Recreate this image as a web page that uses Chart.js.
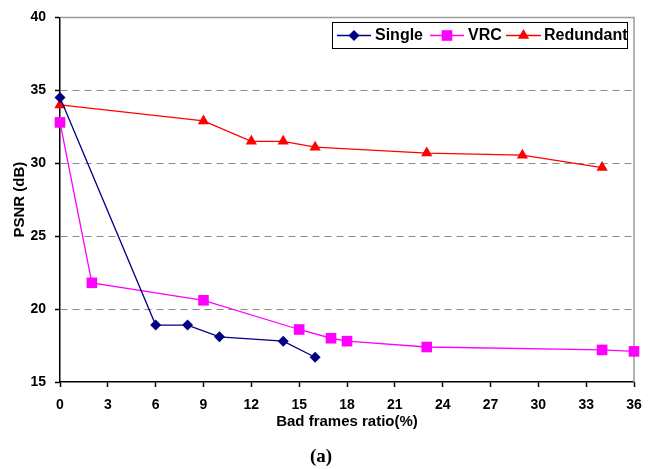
<!DOCTYPE html>
<html>
<head>
<meta charset="utf-8">
<script src="https://cdn.jsdelivr.net/npm/chart.js@4"></script>
<style>
  html, body { margin: 0; padding: 0; background: #fff; }
  canvas { display: block; }
</style>
</head>
<body>
<canvas id="psnr" width="656" height="469"></canvas>
<script>
// values (x = bad frames ratio %, y = PSNR dB)
const singleX = [0, 6, 8, 10, 14, 16];
const singleY = [34.5, 18.9, 18.9, 18.1, 17.8, 16.7];

const vrcX = [0, 2, 9, 15, 17, 18, 23, 34, 36];
const vrcY = [32.8, 21.8, 20.6, 18.6, 18.0, 17.8, 17.4, 17.2, 17.1];

const redX = [0, 9, 12, 14, 16, 23, 29, 34];
const redY = [34.0, 32.9, 31.5, 31.5, 31.1, 30.7, 30.55, 29.7];

const xTicks = { min: 0, max: 36, step: 3 };
const yTicks = { min: 15, max: 40, step: 5 };

const FONT = 'Liberation Sans, Arial, sans-serif';

const pts = (xs, ys) => xs.map((x, i) => ({ x: x, y: ys[i] }));

const series = [
  { label: 'Single',    data: pts(singleX, singleY), color: '#000080', style: 'rectRot',  r: 5.5 },
  { label: 'VRC',       data: pts(vrcX, vrcY),       color: '#FF00FF', style: 'rect',     r: 7.5 },
  { label: 'Redundant', data: pts(redX, redY),       color: '#FF0000', style: 'triangle', r: 6.5 }
];

// small marker helper for the hand-made legend
function marker(ctx, style, x, y, r, color) {
  ctx.save();
  ctx.fillStyle = color;
  ctx.beginPath();
  if (style === 'rect') {
    const s = r * Math.SQRT1_2;
    ctx.rect(x - s, y - s, 2 * s, 2 * s);
  } else if (style === 'rectRot') {
    ctx.moveTo(x, y - r); ctx.lineTo(x + r, y); ctx.lineTo(x, y + r); ctx.lineTo(x - r, y);
  } else {
    const w = r * Math.sqrt(3) / 2;
    ctx.moveTo(x, y - r); ctx.lineTo(x + w, y + r / 2); ctx.lineTo(x - w, y + r / 2);
  }
  ctx.closePath();
  ctx.fill();
  ctx.restore();
}

const extras = {
  id: 'extras',
  beforeDatasetsDraw(chart) {
    const { ctx, chartArea: a } = chart;
    // grey plot frame on top and right
    ctx.save();
    ctx.strokeStyle = '#9a9a9a';
    ctx.lineWidth = 1.5;
    ctx.beginPath();
    ctx.moveTo(a.left, a.top);
    ctx.lineTo(a.right, a.top);
    ctx.lineTo(a.right, a.bottom);
    ctx.stroke();
    ctx.restore();
  },
  afterDraw(chart) {
    const ctx = chart.ctx;
    ctx.save();
    // legend box
    ctx.fillStyle = '#fff';
    ctx.fillRect(332, 22, 296, 27);
    ctx.strokeStyle = '#000';
    ctx.lineWidth = 1;
    ctx.strokeRect(332.5, 22.5, 295, 26);
    const items = [
      { x0: 337, x1: 371, tx: 375 },
      { x0: 430, x1: 464, tx: 468 },
      { x0: 506, x1: 541, tx: 544 }
    ];
    ctx.font = 'bold 16px ' + FONT;
    ctx.textBaseline = 'middle';
    ctx.textAlign = 'left';
    items.forEach((it, i) => {
      const s = series[i];
      ctx.strokeStyle = s.color;
      ctx.lineWidth = 1.3;
      ctx.beginPath();
      ctx.moveTo(it.x0, 35.5);
      ctx.lineTo(it.x1, 35.5);
      ctx.stroke();
      marker(ctx, s.style, (it.x0 + it.x1) / 2, 35.5, s.r, s.color);
      ctx.fillStyle = '#000';
      ctx.fillText(s.label, it.tx, 36);
    });
    // panel caption
    ctx.font = 'bold 19px Liberation Serif, Times New Roman, serif';
    ctx.textAlign = 'center';
    ctx.fillStyle = '#000';
    ctx.fillText('(a)', 321, 457);
    ctx.restore();
  }
};

new Chart(document.getElementById('psnr'), {
  type: 'line',
  data: {
    datasets: series.map(s => ({
      label: s.label,
      data: s.data,
      borderColor: s.color,
      backgroundColor: s.color,
      borderWidth: 1.3,
      pointStyle: s.style,
      pointRadius: s.r,
      pointBackgroundColor: s.color,
      pointBorderColor: s.color,
      pointBorderWidth: 0,
      tension: 0,
      fill: false,
      clip: false
    }))
  },
  options: {
    responsive: false,
    animation: false,
    layout: { padding: { top: 14, right: 22, left: 0, bottom: 0 } },
    plugins: {
      legend: { display: false },
      tooltip: { enabled: false }
    },
    scales: {
      x: {
        type: 'linear',
        min: xTicks.min,
        max: xTicks.max,
        afterFit: s => { s.height = 87; },
        ticks: {
          stepSize: xTicks.step,
          color: '#000',
          font: { family: FONT, size: 14, weight: 'bold' },
          padding: 10,
          maxRotation: 0
        },
        grid: {
          drawOnChartArea: false,
          tickLength: 5,
          tickColor: '#000',
          tickWidth: 1.5
        },
        border: { color: '#000', width: 1.5 },
        title: {
          display: true,
          text: 'Bad frames ratio(%)',
          color: '#000',
          font: { family: FONT, size: 15, weight: 'bold' },
          padding: { top: 0, bottom: 38 }
        }
      },
      y: {
        min: yTicks.min,
        max: yTicks.max,
        afterFit: s => { s.width = 60; },
        ticks: {
          stepSize: yTicks.step,
          color: '#000',
          font: { family: FONT, size: 14, weight: 'bold' },
          padding: 9
        },
        grid: {
          // edge lines are the axis / grey frame, keep only inner dashed lines
          color: c => (c.tick && (c.tick.value === yTicks.min || c.tick.value === yTicks.max)) ? 'rgba(0,0,0,0)' : '#8a8a8a',
          lineWidth: 1,
          tickLength: 5,
          tickColor: '#000',
          tickWidth: 1.5,
          tickBorderDash: []
        },
        border: { color: '#000', width: 1.5, dash: [7, 5] },
        title: {
          display: true,
          text: 'PSNR (dB)',
          color: '#000',
          font: { family: FONT, size: 15, weight: 'bold' },
          padding: { top: 11, bottom: 0 }
        }
      }
    }
  },
  plugins: [extras]
});
</script>
</body>
</html>
